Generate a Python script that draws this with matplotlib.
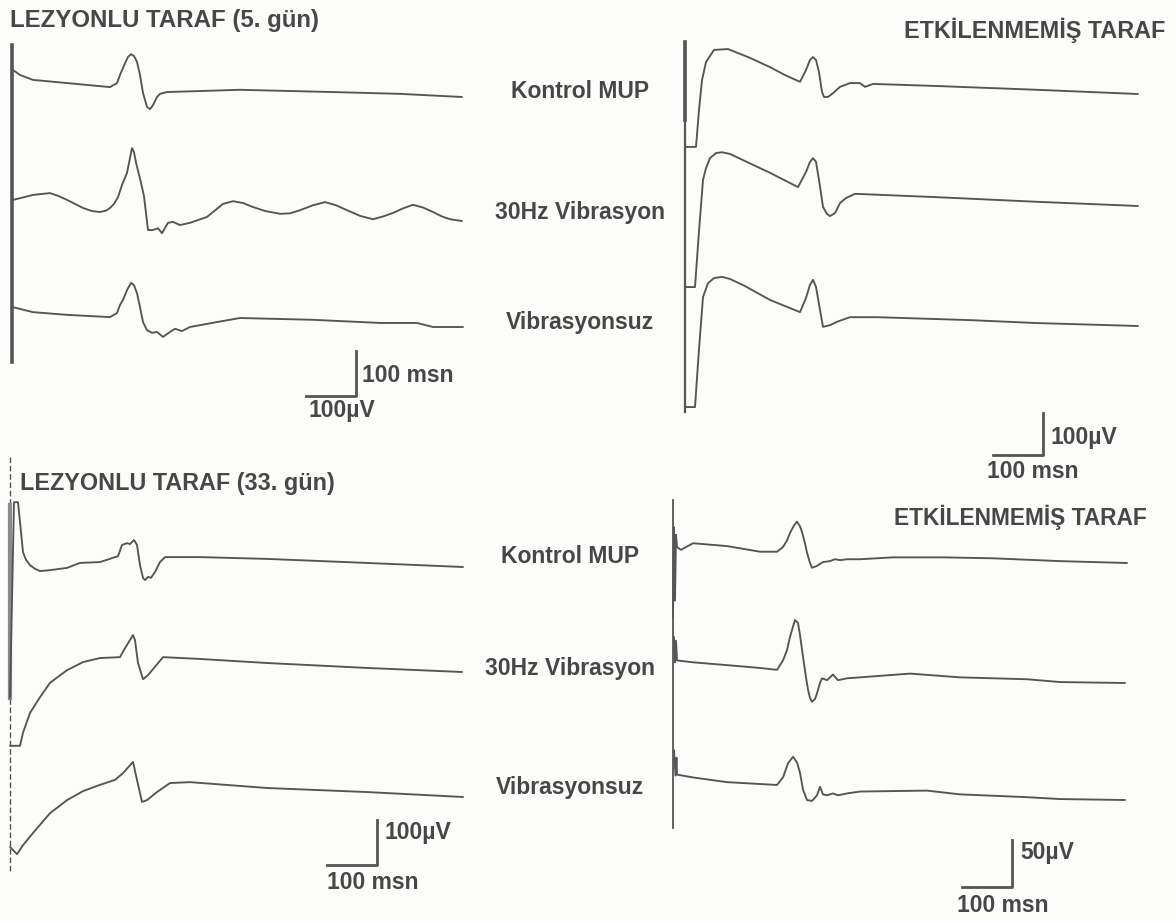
import matplotlib.pyplot as plt

plt.rcParams['font.family'] = ['Liberation Sans', 'DejaVu Sans']

W, H = 1176, 921
INK = '#555555'
TXT = '#474747'

# ---- MUP traces: time after stimulus (ms) and amplitude (µV) ----
# lezyonlu taraf, 5. gün
lez5_kontrol_t = [0, 14, 40, 108, 194, 208, 214, 224, 230, 236, 242, 248, 254, 260, 268, 274, 280,
                  288, 294, 308, 454, 640, 774, 898]
lez5_kontrol_uv = [60, 49, 38, 31, 22, 31, 49, 75, 89, 95, 91, 78, 49, 9, -22, -27, -18,
                   0, 7, 11, 16, 11, 7, 0]
lez5_vib_t = [0, 8, 40, 74, 90, 108, 124, 140, 158, 174, 186, 194, 202, 210, 218, 228, 234, 238, 242,
              246, 256, 262, 270, 280, 290, 298, 310, 320, 334, 354, 388, 420, 440, 460, 480, 505,
              534, 554, 574, 600, 624, 646, 668, 695, 720, 740, 760, 780, 800, 820, 840, 858, 874, 898]
lez5_vib_uv = [47, 49, 58, 62, 56, 47, 38, 29, 22, 20, 23, 29, 38, 53, 80, 107, 140, 162, 153,
               130, 85, 55, -20, -20, -16, -27, -4, -2, -9, -4, 9, 38, 44, 40, 31, 22,
               16, 17, 24, 35, 42, 35, 24, 11, 4, 10, 18, 28, 36, 30, 20, 10, 4, 0]
lez5_novib_t = [0, 40, 108, 194, 208, 214, 220, 228, 236, 242, 248, 254, 260, 268, 278, 288, 300,
                314, 324, 338, 354, 408, 454, 600, 734, 808, 840, 900]
lez5_novib_uv = [44, 33, 27, 22, 31, 49, 60, 82, 98, 93, 75, 44, 11, -7, -13, -11, -22,
                 -11, -4, -9, 0, 11, 20, 16, 9, 9, 0, 0]

# etkilenmemiş taraf (üst)
etk1_kontrol_t = [0, 22, 28, 34, 42, 58, 86, 130, 170, 200, 230, 242, 250, 256, 262, 268, 274, 278,
                  286, 296, 310, 330, 350, 360, 376, 504, 704, 906]
etk1_kontrol_uv = [-126, -126, -38, 33, 76, 105, 107, 86, 64, 45, 29, 57, 81, 88, 81, 52, 5, -7,
                   -7, 2, 17, 26, 26, 17, 24, 19, 10, 0]
etk1_vib_t = [0, 20, 28, 36, 42, 50, 62, 74, 90, 120, 170, 226, 242, 250, 256, 262, 268, 276, 284,
              290, 300, 310, 322, 340, 504, 704, 906]
etk1_vib_uv = [-193, -193, -60, 62, 90, 114, 126, 128, 124, 107, 79, 45, 81, 105, 114, 105, 62, -2, -19,
               -24, -17, 7, 19, 29, 21, 10, 0]
etk1_novib_t = [0, 20, 28, 36, 46, 58, 74, 90, 120, 170, 230, 242, 250, 256, 262, 268, 276, 290,
                304, 330, 384, 570, 704, 906]
etk1_novib_uv = [-193, -193, -55, 69, 102, 114, 117, 112, 95, 62, 33, 67, 98, 110, 93, 52, -2, 2,
                 10, 21, 21, 14, 7, 0]

# lezyonlu taraf, 33. gün
lez33_kontrol_t = [0, 8, 16, 20, 26, 32, 40, 50, 60, 80, 114, 140, 180, 216, 224, 234, 240, 248, 254,
                   260, 266, 270, 276, 282, 290, 300, 310, 326, 380, 514, 714, 906]
lez33_kontrol_uv = [-291, 144, 144, 100, 33, 16, 4, -4, -9, -7, -2, 9, 11, 24, 49, 53, 51, 60, 49,
                    4, -24, -29, -22, -24, -11, 11, 22, 22, 22, 18, 9, 0]
lez33_vib_t = [0, 20, 26, 40, 60, 80, 114, 146, 180, 220, 230, 246, 250, 256, 266, 276, 306, 380,
               514, 714, 904]
lez33_vib_uv = [-164, -164, -135, -91, -56, -24, 4, 22, 31, 33, 53, 82, 71, 20, -16, -7, 33, 29,
                20, 9, 0]
lez33_novib_t = [0, 14, 26, 46, 80, 114, 146, 180, 210, 226, 246, 254, 264, 274, 294, 320, 360,
                 514, 714, 906]
lez33_novib_uv = [-111, -127, -107, -80, -36, -7, 13, 27, 38, 53, 78, 38, -11, -7, 11, 31, 33,
                  20, 11, 0]

# etkilenmemiş taraf (alt)
etk2_kontrol_t = [-8, -6, -4, -2, 0, 8, 32, 100, 166, 200, 212, 220, 226, 234, 240, 246, 250, 256,
                  260, 266, 270, 276, 280, 292, 306, 316, 326, 340, 366, 432, 532, 632, 766, 900]
etk2_kontrol_uv = [-57, 38, -40, 30, 17, 14, 21, 18, 12, 12, 17, 24, 32, 40, 44, 39, 33, 21,
                   11, 0, -5, -4, -3, 1, 2, 4, 3, 4, 4, 6, 6, 5, 2, 0]
etk2_vib_t = [-6, -4, -2, 0, 32, 100, 166, 200, 212, 220, 226, 232, 236, 242, 246, 252, 258, 262,
              266, 270, 276, 280, 286, 290, 300, 312, 322, 340, 366, 466, 566, 700, 766, 896]
etk2_vib_uv = [49, 22, 45, 24, 22, 19, 16, 14, 24, 35, 49, 60, 67, 64, 51, 28, 6, -7,
               -16, -20, -17, -11, 0, 5, 3, 9, 3, 5, 6, 10, 6, 4, 1, 0]
etk2_novib_t = [-6, -3, -1, 0, 32, 100, 166, 200, 212, 222, 232, 240, 246, 252, 260, 270, 280, 286,
                292, 300, 312, 322, 340, 366, 500, 566, 700, 766, 896]
etk2_novib_uv = [53, 26, 45, 27, 24, 19, 17, 16, 24, 39, 46, 40, 29, 11, 0, -1, 5, 14,
                 6, 5, 7, 5, 7, 9, 10, 6, 3, 1, 0]

row_labels = ['Kontrol MUP', '30Hz Vibrasyon', 'Vibrasyonsuz']

fig = plt.figure(figsize=(W / 100, H / 100), dpi=100)
fig.patch.set_facecolor('#fcfcfa')


def panel(box, x0, uv_px, ms_px=2.0):
    # box in pixels (left, top, right, bottom); x0 = pixel of stimulus (t=0)
    L, T, R, B = box
    ax = fig.add_axes([L / W, 1 - B / H, (R - L) / W, (B - T) / H])
    ax.set_xlim((L - x0) * ms_px, (R - x0) * ms_px)
    ax.set_ylim(-(B - T) * uv_px, 0)
    ax.axis('off')
    to_t = lambda x: (x - x0) * ms_px
    to_v = lambda y: -(y - T) * uv_px
    return ax, to_t, to_v


def draw(ax, to_v, traces, rows):
    for (t, uv), r in zip(traces, rows):
        off = to_v(r)
        ax.plot(t, [off + v for v in uv], color=INK, lw=1.35,
                solid_joinstyle='round', solid_capstyle='round')


def scale_bar(ax, to_t, to_v, corner, dt, dv):
    ct, cv = to_t(corner[0]), to_v(corner[1])
    ax.plot([ct - dt, ct, ct], [cv, cv, cv + dv], color=INK, lw=2.0)


def txt(x, y, s, size=16.5, ha='left'):
    fig.text(x / W, 1 - y / H, s, fontsize=size, fontweight='bold', color=TXT, ha=ha, va='center')


# top left
ax, tt, tv = panel((0, 40, 480, 420), 13, 100 / 45)
ax.plot([tt(12), tt(12)], [tv(45), tv(362)], color=INK, lw=2.6)
draw(ax, tv, [(lez5_kontrol_t, lez5_kontrol_uv), (lez5_vib_t, lez5_vib_uv),
              (lez5_novib_t, lez5_novib_uv)], [97, 221, 327])
scale_bar(ax, tt, tv, (356, 396), 100, 100)

# top right
ax, tt, tv = panel((670, 35, 1176, 480), 685, 100 / 42)
ax.plot([0, 0], [tv(42), tv(412)], color=INK, lw=1.6)
ax.plot([0, 0], [tv(42), tv(120)], color=INK, lw=2.6)
draw(ax, tv, [(etk1_kontrol_t, etk1_kontrol_uv), (etk1_vib_t, etk1_vib_uv),
              (etk1_novib_t, etk1_novib_uv)], [94, 206, 326])
scale_bar(ax, tt, tv, (1043, 455), 100, 100)

# bottom left
ax, tt, tv = panel((0, 455, 480, 900), 10, 100 / 45)
ax.plot([0, 0], [tv(457), tv(873)], color=INK, lw=1.0, ls=(0, (4, 2)))
ax.plot([-1, -1], [tv(505), tv(698)], color='#8a8a8a', lw=3.0)
draw(ax, tv, [(lez33_kontrol_t, lez33_kontrol_uv), (lez33_vib_t, lez33_vib_uv),
              (lez33_novib_t, lez33_novib_uv)], [567, 672, 797])
scale_bar(ax, tt, tv, (377, 865), 100, 100)

# bottom right
ax, tt, tv = panel((660, 490, 1176, 921), 677, 50 / 47)
ax.plot([tt(673), tt(673)], [tv(500), tv(828)], color=INK, lw=1.3)
draw(ax, tv, [(etk2_kontrol_t, etk2_kontrol_uv), (etk2_vib_t, etk2_vib_uv),
              (etk2_novib_t, etk2_novib_uv)], [563, 683, 800])
scale_bar(ax, tt, tv, (1012, 887), 100, 50)

# titles and labels
txt(10, 20, 'LEZYONLU TARAF (5. gün)', size=17.3)
txt(1165, 30, 'ETKİLENMEMİŞ TARAF', size=16.8, ha='right')
txt(20, 483, 'LEZYONLU TARAF (33. gün)', size=16.8)
txt(1147, 517, 'ETKİLENMEMİŞ TARAF', size=16.4, ha='right')
for lab, y in zip(row_labels, [92, 213, 322]):
    txt(580, y, lab, ha='center')
for lab, y in zip(row_labels, [556, 668, 787]):
    txt(570, y, lab, ha='center')

txt(362, 375, '100 msn')
txt(308, 410, '100µV')
txt(1050, 437, '100µV')
txt(987, 471, '100 msn')
txt(385, 833, '100µV')
txt(327, 882, '100 msn')
txt(1020, 852, '50µV')
txt(957, 905, '100 msn')

fig.savefig('out.png', dpi=100, facecolor=fig.get_facecolor())
